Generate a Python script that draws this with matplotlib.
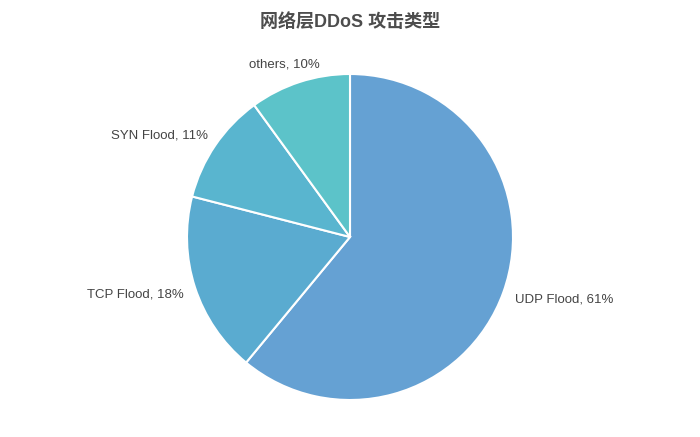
import numpy as np
import matplotlib
matplotlib.use("Agg")
from matplotlib import pyplot as plt

plt.rcParams['font.family'] = ['Liberation Sans', 'Noto Sans CJK SC', 'DejaVu Sans']

# data
attack_types = ["UDP Flood", "TCP Flood", "SYN Flood", "others"]
shares = [61, 18, 11, 10]
colors = ["#65a1d3", "#5aabd0", "#59b5cf", "#5cc3c9"]

W, H = 700, 437
fig = plt.figure(figsize=(W / 100, H / 100), dpi=100)
fig.patch.set_alpha(0)

cx, cy, r = 350, 237, 163
ax = fig.add_axes([(cx - r) / W, (H - cy - r) / H, 2 * r / W, 2 * r / H])

labels = [f"{name}, {v}%" for name, v in zip(attack_types, shares)]
wedges, texts = ax.pie(shares, labels=labels, colors=colors, startangle=90,
                       counterclock=False, radius=1.0, labeldistance=1.05,
                       wedgeprops=dict(edgecolor="white", linewidth=1.5),
                       textprops=dict(fontsize=9.5, color="#444444"))
ax.set_xlim(-1, 1)
ax.set_ylim(-1, 1)
ax.set_aspect("equal")
ax.axis("off")

# small tweaks to label placement
for t in texts:
    x, y = t.get_position()
    if y > 0.9:
        t.set_horizontalalignment("center")
        t.set_verticalalignment("bottom")
        t.set_position((x - 0.08, y + 0.02))
    elif x < 0 and y > 0:
        t.set_position((x, y + 0.03))
    elif x < 0:
        t.set_position((x - 0.02, y - 0.03))
    else:
        t.set_position((x + 0.025, y - 0.03))

fig.text(0.5, 1 - 22 / H, "网络层DDoS 攻击类型", ha="center", va="center",
         fontsize=13, fontweight="bold", color="#4d4d4d",
         family=['Liberation Sans', 'Noto Sans CJK SC'])

fig.savefig("out.png", dpi=100, transparent=True)
